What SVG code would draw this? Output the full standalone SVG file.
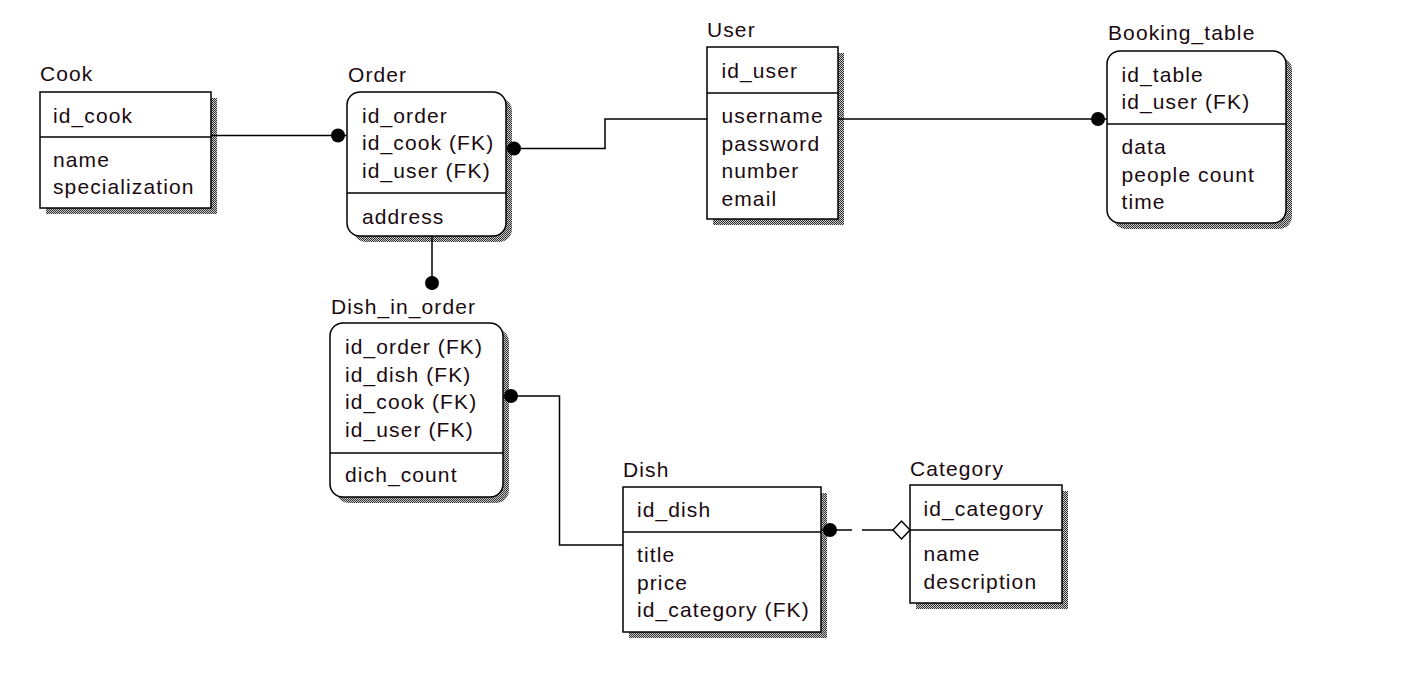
<svg xmlns="http://www.w3.org/2000/svg" width="1420" height="684" viewBox="0 0 1420 684">
<defs>
<pattern id="dither" width="2" height="2" patternUnits="userSpaceOnUse">
<rect width="2" height="2" fill="#c8c8c8"/>
<rect x="0" y="0" width="1" height="1" fill="#333"/>
<rect x="1" y="1" width="1" height="1" fill="#333"/>
</pattern>
<style>
.box{fill:#fff;stroke:#000;stroke-width:1.5}
.sh{fill:url(#dither);stroke:none}
.div{stroke:#000;stroke-width:1.5}
.t{font-family:"Liberation Sans",Arial,sans-serif;font-size:21px;letter-spacing:1.1px;fill:#1a0a10}
.ln{fill:none;stroke:#000;stroke-width:1.5}
.dot{fill:#000}
</style>
</defs>
<rect width="1420" height="684" fill="#fff"/>

<g id="cook">
<rect class="sh" x="46" y="98" width="171" height="116"/>
<rect class="box" x="40" y="92" width="171" height="116"/>
<line class="div" x1="40" y1="137" x2="211" y2="137"/>
<text class="t" x="40" y="81">Cook</text>
<text class="t" x="53" y="122.5">id_cook</text>
<text class="t" x="53" y="167">name</text>
<text class="t" x="53" y="194">specialization</text>
</g>

<g id="order">
<rect class="sh" x="353" y="98" width="159" height="144" rx="13"/>
<rect class="box" x="347" y="92" width="159" height="144" rx="13"/>
<line class="div" x1="347" y1="193" x2="506" y2="193"/>
<text class="t" x="348" y="82">Order</text>
<text class="t" x="362" y="122.5">id_order</text>
<text class="t" x="362" y="150">id_cook (FK)</text>
<text class="t" x="362" y="177.5">id_user (FK)</text>
<text class="t" x="362" y="223.5">address</text>
</g>

<g id="user">
<rect class="sh" x="713" y="53" width="131" height="172"/>
<rect class="box" x="707" y="47" width="131" height="172"/>
<line class="div" x1="707" y1="93" x2="838" y2="93"/>
<text class="t" x="707" y="37">User</text>
<text class="t" x="721.5" y="77.5">id_user</text>
<text class="t" x="721.5" y="123">username</text>
<text class="t" x="721.5" y="150.5">password</text>
<text class="t" x="721.5" y="178">number</text>
<text class="t" x="721.5" y="205.5">email</text>
</g>

<g id="booking_table">
<rect class="sh" x="1113" y="57" width="179" height="172" rx="13"/>
<rect class="box" x="1107" y="51" width="179" height="172" rx="13"/>
<line class="div" x1="1107" y1="124" x2="1286" y2="124"/>
<text class="t" x="1108" y="40">Booking_table</text>
<text class="t" x="1121.5" y="81.5">id_table</text>
<text class="t" x="1121.5" y="109">id_user (FK)</text>
<text class="t" x="1121.5" y="154">data</text>
<text class="t" x="1121.5" y="181.5">people count</text>
<text class="t" x="1121.5" y="209">time</text>
</g>

<g id="dish_in_order">
<rect class="sh" x="336" y="329" width="173" height="174" rx="13"/>
<rect class="box" x="330" y="323" width="173" height="174" rx="13"/>
<line class="div" x1="330" y1="453" x2="503" y2="453"/>
<text class="t" x="331" y="314">Dish_in_order</text>
<text class="t" x="345" y="354">id_order (FK)</text>
<text class="t" x="345" y="381.5">id_dish (FK)</text>
<text class="t" x="345" y="409">id_cook (FK)</text>
<text class="t" x="345" y="436.5">id_user (FK)</text>
<text class="t" x="345" y="482">dich_count</text>
</g>

<g id="dish">
<rect class="sh" x="629" y="493" width="198" height="145"/>
<rect class="box" x="623" y="487" width="198" height="145"/>
<line class="div" x1="623" y1="532" x2="821" y2="532"/>
<text class="t" x="623" y="477">Dish</text>
<text class="t" x="637" y="517">id_dish</text>
<text class="t" x="637" y="562">title</text>
<text class="t" x="637" y="589.5">price</text>
<text class="t" x="637" y="617">id_category (FK)</text>
</g>

<g id="category">
<rect class="sh" x="916" y="491" width="152" height="118"/>
<rect class="box" x="910" y="485" width="152" height="118"/>
<line class="div" x1="910" y1="530" x2="1062" y2="530"/>
<text class="t" x="910" y="476">Category</text>
<text class="t" x="923.5" y="516">id_category</text>
<text class="t" x="923.5" y="561">name</text>
<text class="t" x="923.5" y="588.5">description</text>
</g>

<g id="connectors">
<line class="ln" x1="211" y1="135.5" x2="347" y2="135.5"/>
<circle class="dot" cx="338" cy="135.5" r="7"/>
<polyline class="ln" points="506,148.5 605,148.5 605,119 707,119"/>
<circle class="dot" cx="514" cy="148.5" r="7"/>
<line class="ln" x1="838" y1="119" x2="1107" y2="119"/>
<circle class="dot" cx="1098" cy="119" r="7"/>
<line class="ln" x1="432" y1="236" x2="432" y2="283"/>
<circle class="dot" cx="432" cy="283" r="7"/>
<polyline class="ln" points="503,396 559.5,396 559.5,545 623,545"/>
<circle class="dot" cx="511" cy="396" r="7"/>
<line class="ln" x1="821" y1="530" x2="852" y2="530"/>
<line class="ln" x1="862" y1="530" x2="893" y2="530"/>
<circle class="dot" cx="830" cy="530" r="7"/>
<polygon points="893,530 901.5,521 910,530 901.5,539" fill="#fff" stroke="#000" stroke-width="1.5"/>
</g>
</svg>
